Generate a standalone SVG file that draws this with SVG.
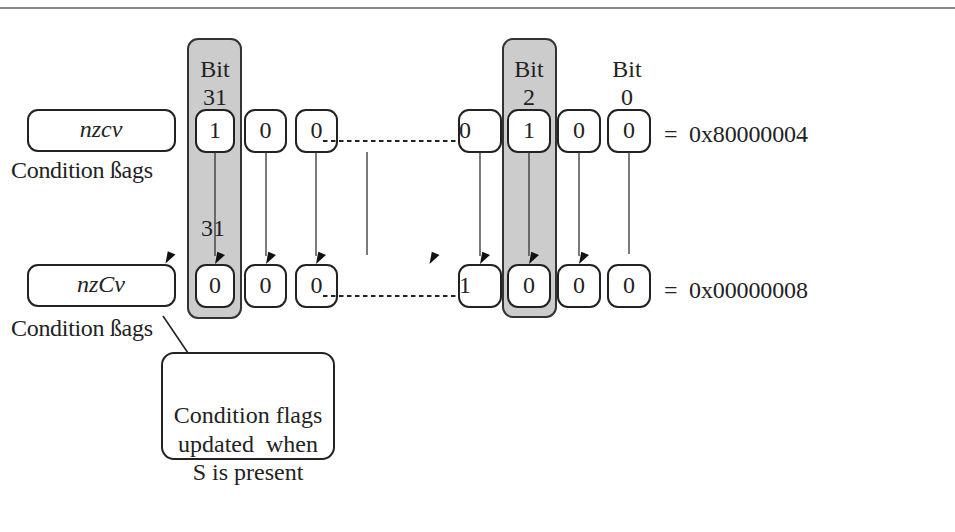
<svg xmlns="http://www.w3.org/2000/svg" width="955" height="532" viewBox="0 0 955 532">
<style>
text{font-family:"Liberation Serif","Times New Roman",serif;font-size:24px;fill:#222}
.c{text-anchor:middle}
.it{font-style:italic}
.bit{fill:#fff;stroke:#222;stroke-width:2}
.col{fill:#cccccc;stroke:#333;stroke-width:2}
.wire{stroke:#333;stroke-width:1.3;fill:none}
.dash{stroke:#222;stroke-width:2;stroke-dasharray:4.5 3.5;fill:none}
.ah{fill:#111}
</style>
<line x1="0" y1="8" x2="955" y2="8" stroke="#111" stroke-width="1.2"/>
<g id="column31"><rect class="col" x="188" y="39" width="53" height="279" rx="10"/><text class="c" x="215" y="77">Bit</text><text class="c" x="215" y="105">31</text></g>
<g id="column2"><rect class="col" x="503" y="39" width="53" height="278" rx="10"/><text class="c" x="529" y="77">Bit</text><text class="c" x="529" y="105">2</text></g>
<g id="label0"><text class="c" x="627" y="77">Bit</text><text class="c" x="627" y="105">0</text></g>
<g id="nzcv"><rect class="bit" x="28" y="110" width="147" height="41" rx="10"/><text class="c it" x="101" y="137">nzcv</text><text x="11" y="178" textLength="142">Condition ßags</text></g>
<g id="nzCv"><rect class="bit" x="28" y="265" width="147" height="41" rx="10"/><text class="c it" x="101" y="292">nzCv</text><text x="11" y="336" textLength="142">Condition ßags</text></g>
<g id="top-bits">
<rect class="bit" x="196" y="110" width="38" height="42" rx="10"/><text class="c" x="215" y="138">1</text>
<rect class="bit" x="245" y="110" width="41" height="42" rx="10"/><text class="c" x="265.5" y="138">0</text>
<rect class="bit" x="296" y="110" width="41" height="42" rx="10"/><text class="c" x="316.5" y="138">0</text>
<rect class="bit" x="459" y="110" width="42" height="42" rx="10"/><text x="459" y="138">0</text>
<rect class="bit" x="508" y="110" width="42" height="42" rx="10"/><text class="c" x="529" y="138">1</text>
<rect class="bit" x="558" y="110" width="42" height="42" rx="10"/><text class="c" x="579" y="138">0</text>
<rect class="bit" x="608" y="110" width="42" height="42" rx="10"/><text class="c" x="629" y="138">0</text>
</g>
<g id="bottom-bits">
<rect class="bit" x="196" y="265" width="38" height="42" rx="10"/><text class="c" x="215" y="293">0</text>
<rect class="bit" x="245" y="265" width="41" height="42" rx="10"/><text class="c" x="265.5" y="293">0</text>
<rect class="bit" x="296" y="265" width="41" height="42" rx="10"/><text class="c" x="316.5" y="293">0</text>
<rect class="bit" x="459" y="265" width="42" height="42" rx="10"/><text x="459" y="293">1</text>
<rect class="bit" x="508" y="265" width="42" height="42" rx="10"/><text class="c" x="529" y="293">0</text>
<rect class="bit" x="558" y="265" width="42" height="42" rx="10"/><text class="c" x="579" y="293">0</text>
<rect class="bit" x="608" y="265" width="42" height="42" rx="10"/><text class="c" x="629" y="293">0</text>
</g>
<g id="values">
<text x="664" y="142">=</text><text x="689" y="142" textLength="119">0x80000004</text>
<text x="664" y="298">=</text><text x="689" y="298" textLength="119">0x00000008</text>
</g>
<text class="c" x="213" y="236">31</text>
<g id="connectors">
<line class="dash" x1="323" y1="141" x2="456" y2="141"/>
<line class="dash" x1="323" y1="296" x2="456" y2="296"/>
<line class="wire" x1="215" y1="152" x2="215" y2="256"/>
<line class="wire" x1="266" y1="152" x2="266" y2="256"/>
<line class="wire" x1="316" y1="152" x2="316" y2="256"/>
<line class="wire" x1="367" y1="152" x2="367" y2="255"/>
<line class="wire" x1="480" y1="152" x2="480" y2="256"/>
<line class="wire" x1="529" y1="152" x2="529" y2="256"/>
<line class="wire" x1="579" y1="152" x2="579" y2="256"/>
<line class="wire" x1="629" y1="152" x2="629" y2="254"/>
<polygon class="ah" points="215,264 217.3,251.7 225,255"/>
<polygon class="ah" points="266,264 268.3,251.7 276,255"/>
<polygon class="ah" points="316,264 318.3,251.7 326,255"/>
<polygon class="ah" points="480,264 482.3,251.7 490,255"/>
<polygon class="ah" points="529,264 531.3,251.7 539,255"/>
<polygon class="ah" points="579,264 581.3,251.7 589,255"/>
<polygon class="ah" points="165.5,263.5 167.8,251.2 175.5,254.5"/>
<polygon class="ah" points="429.5,264 431.8,251.7 439.5,255"/>
<line stroke="#222" stroke-width="1.6" x1="163" y1="316" x2="188" y2="353"/>
</g>
<g id="callout">
<rect class="bit" x="162" y="353" width="172" height="106" rx="12"/>
<text class="c" x="248" y="423">Condition flags</text>
<text class="c" x="248" y="452" xml:space="preserve">updated  when</text>
<text class="c" x="248" y="480">S is present</text>
</g>
</svg>
